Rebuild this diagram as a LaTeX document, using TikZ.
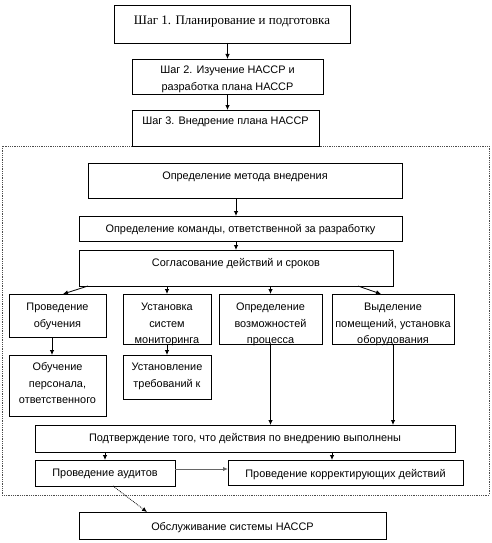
\documentclass[tikz,border=0pt]{standalone}
\usepackage{fontspec}
\setmainfont{Liberation Serif}
\newfontfamily\sansf{Liberation Sans}
\usetikzlibrary{arrows.meta,calc}
\tikzset{
  box/.style={draw=black, line width=0.8pt, inner sep=0pt, outer sep=0pt},
  txt/.style={inner sep=0pt, font=\sansf\fontsize{10.9}{16.5}\selectfont, align=center},
  serif/.style={inner sep=0pt, font=\fontsize{13}{15}\selectfont, align=center},
  arr/.style={line width=0.8pt, -{Latex[length=5pt,width=4.5pt]}},
  grayarr/.style={line width=1pt, draw=black!60, -{Latex[length=5pt,width=4.5pt]}},
  dotarr/.style={line width=0.8pt, densely dotted, -{Latex[length=5pt,width=4.5pt]}},
  frame/.style={draw=black!70, line width=0.8pt, densely dotted}
}
% name, x1, y1, x2, y2, first line centre offset, text, style
\newcommand{\mybox}[8]{%
  \node[box, anchor=north west, minimum width={(#4-#2)*1pt}, minimum height={(#5-#3)*1pt}] (#1) at (#2,#3) {};
  \node[#8, anchor=north] (#1t) at ({(#2+#4)/2},{#3+#6-4.2}) {#7};}
\begin{document}
\begin{tikzpicture}[x=1pt,y=-1pt]
\useasboundingbox (0,0) rectangle (491,543);
% outer frame
\draw[frame] (2,146) rectangle (489,495);
% steps
\mybox{b1}{114}{5}{350}{43}{14.5}{Шаг 1. Планирование и подготовка}{serif}
\mybox{b2}{132}{59}{323}{94}{11}{Шаг 2. Изучение НАССР и\\разработка плана НАССР}{txt}
\mybox{b3}{132}{110}{319}{146}{11}{Шаг 3. Внедрение плана НАССР}{txt}
% inner
\mybox{m}{88}{163}{402}{198}{13}{Определение метода внедрения}{txt}
\mybox{k}{79}{216}{402}{241}{12}{Определение команды, ответственной за разработку}{txt}
\mybox{s}{79}{250}{393}{286}{12}{Согласование действий и сроков}{txt}
\mybox{o1}{9}{294}{106}{337}{13}{Проведение\\обучения}{txt}
\mybox{o2}{123}{294}{211}{344}{13}{Установка\\систем\\мониторинга}{txt}
\mybox{o3}{219}{294}{322}{344}{13}{Определение\\возможностей\\процесса}{txt}
\mybox{o4}{332}{294}{454}{344}{13}{Выделение\\помещений, установка\\оборудования}{txt}
\mybox{p1}{9}{355}{106}{416}{12}{Обучение\\персонала,\\ответственного}{txt}
\mybox{p2}{123}{355}{211}{399}{12}{Установление\\требований к}{txt}
\mybox{c}{35}{425}{455}{452}{12}{Подтверждение того, что действия по внедрению выполнены}{txt}
\mybox{a}{35}{460}{175}{486}{13}{Проведение аудитов}{txt}
\mybox{kd}{228}{460}{463}{485}{13}{Проведение корректирующих действий}{txt}
\mybox{ob}{79}{512}{386}{539}{14}{Обслуживание системы НАССР}{txt}
% connectors
\draw[arr] (b2.north |- b1.south) -- (b2.north);
\draw[arr] (b2.south) -- (b2.south |- b3.north);
\coordinate (mk) at ([xshift=-9pt]m.south);
\draw[arr] (mk) -- (mk |- k.north);
\draw[arr] (s.north |- k.south) -- (s.north);
\draw[arr] ([xshift=-148pt]s.south) -- ([xshift=5.5pt]o1.north);
\draw[arr] (o2.north |- s.south) -- (o2.north);
\draw[arr] (o3.north |- s.south) -- (o3.north);
\draw[arr] ([xshift=122pt]s.south) -- ([xshift=-12pt]o4.north);
\coordinate (op) at ([xshift=-5.5pt]o1.south);
\draw[arr] (op) -- (op |- p1.north);
\draw[arr] (o2.south) -- (p2.north);
\draw[arr] (o3.south) -- (o3.south |- c.north);
\draw[arr] (o4.south) -- (o4.south |- c.north);
\draw[arr] (a.north |- c.south) -- (a.north);
\coordinate (kdt) at ([xshift=-13.5pt]kd.north);
\draw[arr] (kdt |- c.south) -- (kdt);
\coordinate (ae) at ([yshift=4pt]a.east);
\draw[grayarr] (ae) -- (ae -| kd.west);
\draw[dotarr] ([xshift=8pt]a.south) -- ([xshift=-85.5pt]ob.north);
\end{tikzpicture}
\end{document}
